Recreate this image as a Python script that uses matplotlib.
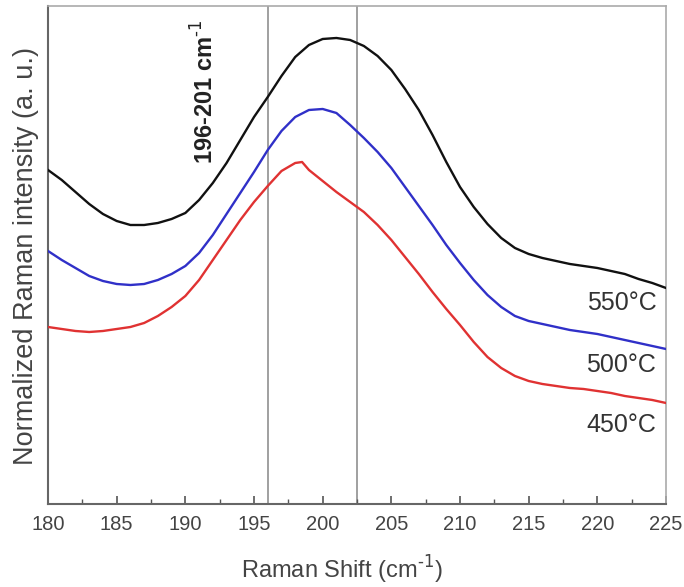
import matplotlib
matplotlib.use("Agg")
import matplotlib.pyplot as plt
from matplotlib.ticker import MultipleLocator

plt.rcParams['font.family'] = ['Liberation Sans', 'DejaVu Sans']

shift = [180, 181, 182, 183, 184, 185, 186, 187, 188, 189, 190, 191, 192, 193, 194,
         195, 196, 197, 198, 199, 200, 201, 202, 203, 204, 205, 206, 207, 208, 209,
         210, 211, 212, 213, 214, 215, 216, 217, 218, 219, 220, 221, 222, 223, 224, 225]

int_550 = [334, 324, 312, 300, 290, 283, 279, 279, 281, 285, 291, 304, 321, 341, 364,
           387, 407, 428, 447, 459, 465, 466, 464, 458, 448, 434, 415, 394, 369, 342,
           317, 297, 280, 266, 256, 250, 246, 243, 240, 238, 236, 233, 230, 225, 221, 216]

int_500 = [253, 244, 236, 228, 223, 220, 219, 220, 224, 230, 238, 251, 269, 290, 311,
           332, 354, 373, 387, 394, 395, 391, 379, 366, 352, 336, 317, 298, 279, 259,
           241, 224, 209, 197, 188, 183, 180, 177, 174, 172, 170, 167, 164, 161, 158, 155]

shift_450 = [180, 181, 182, 183, 184, 185, 186, 187, 188, 189, 190, 191, 192, 193, 194,
             195, 196, 197, 198, 198.5, 199, 200, 201, 202, 203, 204, 205, 206, 207, 208,
             209, 210, 211, 212, 213, 214, 215, 216, 217, 218, 219, 220, 221, 222, 223,
             224, 225]
int_450 = [177, 175, 173, 172, 173, 175, 177, 181, 188, 197, 208, 224, 244, 264, 284,
           302, 318, 333, 341, 342, 334, 323, 312, 302, 292, 279, 264, 247, 230, 212,
           195, 179, 162, 147, 136, 128, 123, 120, 118, 116, 115, 113, 111, 108, 106,
           104, 101]

series_labels = ["550°C", "500°C", "450°C"]
label_y = [201, 139, 79]
vlines = [196, 202.5]

fig = plt.figure(figsize=(6.84, 5.87), dpi=100)
ax = fig.add_axes([0.0702, 0.1414, 0.9035, 0.8484])

ax.axvline(vlines[0], color="#999999", lw=1.3, zorder=1)
ax.axvline(vlines[1], color="#999999", lw=1.3, zorder=1)

ax.plot(shift, int_550, color="#111111", lw=1.7, zorder=3)
ax.plot(shift, int_500, color="#3030c8", lw=1.7, zorder=3)
ax.plot(shift_450, int_450, color="#e03232", lw=1.7, zorder=3)

for lab, yv in zip(series_labels, label_y):
    ax.text(224.3, yv, lab, ha="right", va="center", fontsize=18, color="#333333")

ax.text(191.4, 484, "196-201 cm$^{\\text{-1}}$", rotation=90, ha="center", va="top",
        fontsize=17, fontweight="bold", color="#222222")

ax.set_xlim(180, 225)
ax.set_ylim(0, 498)
ax.xaxis.set_major_locator(MultipleLocator(5))
ax.xaxis.set_minor_locator(MultipleLocator(2.5))
ax.tick_params(axis="x", which="major", direction="in", length=6, width=1.2,
               labelsize=14.5, labelcolor="#444444", color="#555555", pad=8)
ax.tick_params(axis="x", which="minor", direction="in", length=3.5, width=1.0,
               color="#555555")
ax.set_yticks([])

for s in ["left", "bottom"]:
    ax.spines[s].set_color("#666666")
    ax.spines[s].set_linewidth(1.5)
for s in ["top", "right"]:
    ax.spines[s].set_color("#aaaaaa")
    ax.spines[s].set_linewidth(1.2)

ax.set_xlabel("Raman Shift (cm$^{\\text{-1}}$)", fontsize=17, color="#444444")
ax.xaxis.set_label_coords(0.476, -0.100)
ax.set_ylabel("Normalized Raman intensity (a. u.)", fontsize=19.5, color="#444444")
ax.yaxis.set_label_coords(-0.015, 0.497)

fig.savefig("out.png", dpi=100)
